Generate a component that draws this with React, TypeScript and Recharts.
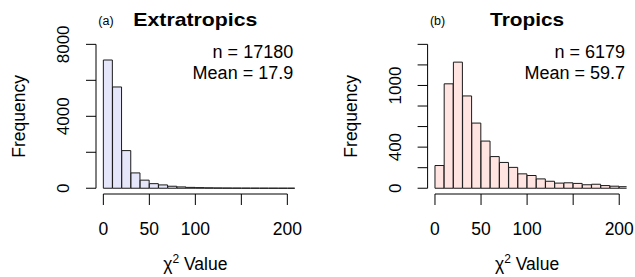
import { Bar, BarChart, ReferenceLine, XAxis, YAxis } from 'recharts'

// histogram bins are 10 wide, the last one (200-210) is cut by the plot edge
const BIN_MIDS = [5, 15, 25, 35, 45, 55, 65, 75, 85, 95, 105, 115, 125, 135, 145, 155, 165, 175, 185, 195, 205]

const EXTRA_COUNTS = [7130, 5630, 2093, 852, 450, 255, 185, 111, 74, 48, 34, 24, 17, 12, 9, 7, 5, 4, 3, 2, 2]
const TROPICS_COUNTS = [221, 1016, 1227, 898, 634, 459, 308, 251, 203, 140, 124, 91, 68, 50, 53, 47, 34, 39, 26, 20, 15]

const X_TICKS = [0, 50, 100, 150, 200]
const X_TICK_LABELS = ['0', '50', '100', '', '200']

const EXTRA_Y_TICKS = [0, 2000, 4000, 6000, 8000]
const EXTRA_Y_LABELS = ['0', '', '4000', '', '8000']
const TROPICS_Y_TICKS = [0, 200, 400, 600, 800, 1000, 1200, 1400]
const TROPICS_Y_LABELS = ['0', '', '400', '', '', '1000', '', '']

const FONT = '"Liberation Sans", Arial, Helvetica, sans-serif'
const INK = '#000'

const X_MIN = -8
const X_MAX = 208
const CHART_H = 277
const PLOT_TOP = 38.6
const XAXIS_H = 83

interface PanelProps {
  tag: string
  title: string
  titleLength: number
  nText: string
  meanText: string
  counts: number[]
  yTicks: number[]
  yLabels: string[]
  yTop: number
  fill: string
  width: number
  plotLeft: number
  plotWidth: number
}

function Panel({
  tag,
  title,
  titleLength,
  nText,
  meanText,
  counts,
  yTicks,
  yLabels,
  yTop,
  fill,
  width,
  plotLeft,
  plotWidth,
}: PanelProps) {
  const data = BIN_MIDS.map((mid, i) => ({ mid, count: counts[i] }))
  const pad = yTop * 0.04
  const mid = plotLeft + plotWidth / 2
  const plotBottom = CHART_H - XAXIS_H
  const yCenter = (PLOT_TOP + plotBottom) / 2

  return (
    <BarChart
      width={width}
      height={CHART_H}
      data={data}
      barCategoryGap={0}
      margin={{ top: PLOT_TOP, right: width - plotLeft - plotWidth, bottom: 0, left: 0 }}
    >
      <XAxis
        xAxisId="ticks"
        dataKey="mid"
        type="number"
        domain={[X_MIN, X_MAX]}
        allowDataOverflow
        ticks={X_TICKS}
        interval={0}
        height={XAXIS_H}
        axisLine={false}
        tickLine={{ stroke: INK, strokeWidth: 1 }}
        tickSize={11}
        tick={(p: any) => {
          const i = X_TICKS.indexOf(p.payload.value)
          return (
            <text x={p.x} y={235} textAnchor="middle" fontSize={17.5} fontFamily={FONT} fill={INK}>
              {X_TICK_LABELS[i]}
            </text>
          )
        }}
      />
      <XAxis
        xAxisId="bins"
        dataKey="mid"
        type="number"
        domain={[X_MIN, X_MAX]}
        allowDataOverflow
        tickCount={BIN_MIDS.length}
        height={0}
        hide
      />
      <YAxis
        type="number"
        domain={[-pad, yTop + pad]}
        allowDataOverflow
        ticks={yTicks}
        interval={0}
        width={plotLeft}
        axisLine={false}
        tickLine={{ stroke: INK, strokeWidth: 1 }}
        tickSize={10}
        tick={(p: any) => {
          const i = yTicks.indexOf(p.payload.value)
          const tx = plotLeft - 32
          return (
            <text
              x={tx}
              y={p.y}
              transform={`rotate(-90 ${tx} ${p.y})`}
              textAnchor="middle"
              dominantBaseline="central"
              fontSize={17}
              fontFamily={FONT}
              fill={INK}
            >
              {yLabels[i]}
            </text>
          )
        }}
      />
      <Bar
        xAxisId="bins"
        dataKey="count"
        fill={fill}
        stroke="#1a1a1a"
        strokeWidth={1}
        isAnimationActive={false}
      />
      {/* R style axis lines: only span from first to last tick */}
      <ReferenceLine
        xAxisId="bins"
        segment={[
          { x: X_TICKS[0], y: -pad },
          { x: X_TICKS[X_TICKS.length - 1], y: -pad },
        ]}
        stroke={INK}
        strokeWidth={1}
      />
      <ReferenceLine
        xAxisId="bins"
        segment={[
          { x: X_MIN, y: yTicks[0] },
          { x: X_MIN, y: yTicks[yTicks.length - 1] },
        ]}
        stroke={INK}
        strokeWidth={1}
      />
      <text x={plotLeft + 10} y={25} textAnchor="middle" fontSize={12.5} fontFamily={FONT} fill={INK}>
        {tag}
      </text>
      <text
        x={mid}
        y={26}
        textAnchor="middle"
        fontSize={19}
        fontWeight="bold"
        fontFamily={FONT}
        fill={INK}
        textLength={titleLength}
        lengthAdjust="spacingAndGlyphs"
      >
        {title}
      </text>
      <text x={plotLeft + plotWidth - 1.5} y={58} textAnchor="end" fontSize={18} fontFamily={FONT} fill={INK}>
        {nText}
      </text>
      <text x={plotLeft + plotWidth - 1.5} y={79} textAnchor="end" fontSize={18} fontFamily={FONT} fill={INK}>
        {meanText}
      </text>
      <text
        x={plotLeft - 76.5}
        y={yCenter}
        transform={`rotate(-90 ${plotLeft - 76.5} ${yCenter})`}
        textAnchor="middle"
        dominantBaseline="central"
        fontSize={17.5}
        fontFamily={FONT}
        fill={INK}
      >
        Frequency
      </text>
      <text x={mid} y={270} textAnchor="middle" fontSize={17.5} fontFamily={FONT} fill={INK}>
        <tspan>χ</tspan>
        <tspan dy={-7.5} fontSize={12}>2</tspan>
        <tspan dy={7.5}> Value</tspan>
      </text>
    </BarChart>
  )
}

export default function App() {
  return (
    <div style={{ position: 'absolute', left: 0, top: 0, width: 635, height: 277, background: '#fff' }}>
      <div style={{ position: 'absolute', left: 0, top: 0 }}>
        <Panel
          tag="(a)"
          title="Extratropics"
          titleLength={124}
          nText="n = 17180"
          meanText="Mean = 17.9"
          counts={EXTRA_COUNTS}
          yTicks={EXTRA_Y_TICKS}
          yLabels={EXTRA_Y_LABELS}
          yTop={8000}
          fill="#E6E6FA"
          width={317}
          plotLeft={96}
          plotWidth={198.7}
        />
      </div>
      <div style={{ position: 'absolute', left: 317, top: 0 }}>
        <Panel
          tag="(b)"
          title="Tropics"
          titleLength={74}
          nText="n = 6179"
          meanText="Mean = 59.7"
          counts={TROPICS_COUNTS}
          yTicks={TROPICS_Y_TICKS}
          yLabels={TROPICS_Y_LABELS}
          yTop={1400}
          fill="#FFE4E1"
          width={318}
          plotLeft={110.6}
          plotWidth={199}
        />
      </div>
    </div>
  )
}
